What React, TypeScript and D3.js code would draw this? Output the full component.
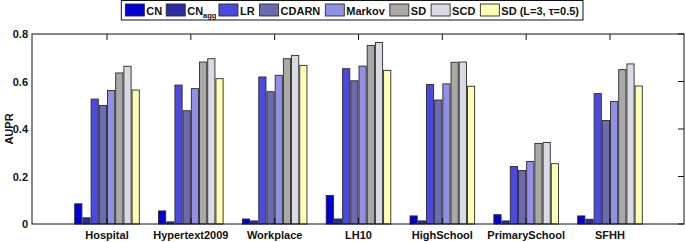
import React from "react";
import * as d3 from "d3";

const categories = ["Hospital", "Hypertext2009", "Workplace", "LH10", "HighSchool", "PrimarySchool", "SFHH"];
const seriesNames = ["CN", "CNagg", "LR", "CDARN", "Markov", "SD", "SCD", "SDL3"];
const seriesColors = ["#0000d6", "#2b2ba6", "#4a4ae0", "#6b6bb0", "#9090e6", "#a9aaa6", "#dadae4", "#ffffb4"];

const CN = [0.085, 0.055, 0.021, 0.12, 0.034, 0.039, 0.034];
const CNagg = [0.026, 0.009, 0.013, 0.021, 0.013, 0.013, 0.02];
const LR = [0.526, 0.585, 0.619, 0.654, 0.587, 0.242, 0.549];
const CDARN = [0.499, 0.477, 0.557, 0.603, 0.522, 0.225, 0.436];
const Markov = [0.562, 0.57, 0.626, 0.665, 0.59, 0.263, 0.516];
const SD = [0.636, 0.682, 0.696, 0.752, 0.681, 0.339, 0.65];
const SCD = [0.664, 0.696, 0.71, 0.764, 0.682, 0.343, 0.674];
const SDL3 = [0.564, 0.612, 0.668, 0.647, 0.58, 0.254, 0.581];
const seriesValues = [CN, CNagg, LR, CDARN, Markov, SD, SCD, SDL3];

const yTicks = [0, 0.2, 0.4, 0.6, 0.8];
const yTickLabels = ["0", "0.2", "0.4", "0.6", "0.8"];

const FONT = "'Liberation Sans', Arial, Helvetica, sans-serif";

function measure(text: string, size: number): number {
  if (typeof document === "undefined") return text.length * size * 0.6;
  const c = document.createElement("canvas");
  const ctx = c.getContext("2d");
  if (!ctx) return text.length * size * 0.6;
  ctx.font = `bold ${size}px ${FONT}`;
  return ctx.measureText(text).width;
}

export default function App() {
  const W = 685, H = 242;
  const left = 32, right = 684, top = 34, bottom = 224;

  const x = d3.scaleLinear().domain([0, categories.length - 1]).range([107, 610]);
  const y = d3.scaleLinear().domain([0, 0.8]).range([bottom, top]);
  const pitch = 8.2;
  const barW = 7.2;
  const nS = seriesNames.length;

  const legendItems = [
    { main: "CN", sub: "" },
    { main: "CN", sub: "agg" },
    { main: "LR", sub: "" },
    { main: "CDARN", sub: "" },
    { main: "Markov", sub: "" },
    { main: "SD", sub: "" },
    { main: "SCD", sub: "" },
    { main: "SD (L=3, \u03c4=0.5)", sub: "" },
  ];
  const fs = 11;
  const subFs = 7.5;
  const swW = 19, swH = 12, gapAfterSw = 2;
  const gaps = [4, 2.5, 5, 5, 5, 5, 5, 0];
  const widths = legendItems.map((it) => measure(it.main, fs) + (it.sub ? measure(it.sub, subFs) : 0));
  const total = widths.reduce((a, w, i) => a + swW + gapAfterSw + w + gaps[i], 0);
  const legRight = 583;
  const legLeft = legRight - total - 8;
  let cx = legLeft + 4;
  const legendPos = widths.map((w, i) => {
    const p = cx;
    cx += swW + gapAfterSw + w + gaps[i];
    return p;
  });

  return (
    <svg width={W} height={H} style={{ position: "absolute", left: 0, top: 0, background: "#fff" }} fontFamily={FONT}>
      {categories.map((c, ci) =>
        seriesValues.map((vals, si) => {
          const x0 = x(ci) - (nS * pitch) / 2 + si * pitch + (pitch - barW) / 2;
          return (
            <rect key={c + si} x={x0} y={y(vals[ci])} width={barW} height={bottom - y(vals[ci])}
              fill={seriesColors[si]} stroke="#2a2a2a" strokeWidth={0.9} />
          );
        })
      )}
      <rect x={left} y={top} width={right - left} height={bottom - top} fill="none" stroke="#111" strokeWidth={1} />
      {categories.map((c, ci) => (
        <g key={"t" + c}>
          <line x1={x(ci)} x2={x(ci)} y1={top} y2={top + 6} stroke="#111" />
          <line x1={x(ci)} x2={x(ci)} y1={bottom} y2={bottom - 6} stroke="#111" />
          <text x={x(ci)} y={239} textAnchor="middle" fontSize={11} fontWeight="bold" fill="#111">{c}</text>
        </g>
      ))}
      {yTicks.map((t, i) => (
        <g key={"y" + i}>
          <line x1={right} x2={right - 6} y1={y(t)} y2={y(t)} stroke="#111" />
          <text x={28} y={y(t) + 4} textAnchor="end" fontSize={11} fontWeight="bold" fill="#111">{yTickLabels[i]}</text>
        </g>
      ))}
      <text transform={`translate(13,129) rotate(-90)`} textAnchor="middle" fontSize={11} fontWeight="bold" fill="#111">AUPR</text>
      <rect x={legLeft} y={0.5} width={legRight - legLeft} height={19.5} fill="#fff" stroke="#111" strokeWidth={1} />
      {legendItems.map((it, i) => (
        <g key={"l" + i}>
          <rect x={legendPos[i]} y={4} width={swW} height={swH} fill={seriesColors[i]} stroke="#2a2a2a" strokeWidth={0.9} />
          <text x={legendPos[i] + swW + gapAfterSw} y={15} fontSize={fs} fontWeight="bold" fill="#111">
            {it.main}
            {it.sub ? <tspan fontSize={subFs} dy={3}>{it.sub}</tspan> : null}
          </text>
        </g>
      ))}
    </svg>
  );
}
